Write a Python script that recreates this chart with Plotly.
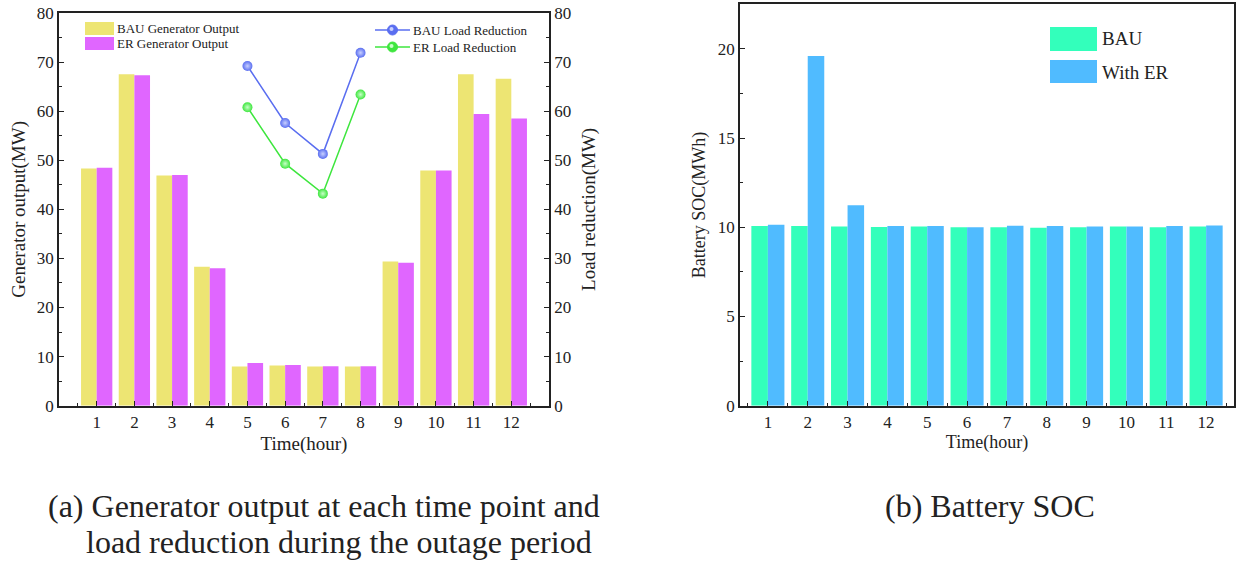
import plotly.graph_objects as go

W, H = 1239, 563
FONT = "Liberation Serif"

hours = list(range(1, 13))
tick_labels = [str(h) for h in hours]

# (a) generator output (MW)
bau_gen = [48.3, 67.5, 46.9, 28.3, 8.0, 8.2, 8.0, 8.0, 29.4, 47.9, 67.5, 66.6]
er_gen = [48.5, 67.3, 47.0, 28.0, 8.7, 8.3, 8.05, 8.05, 29.1, 47.9, 59.4, 58.5]

# (a) load reduction during outage (MW)
outage_hours = [5, 6, 7, 8]
bau_lr = [69.2, 57.6, 51.3, 71.9]
er_lr = [60.8, 49.3, 43.2, 63.4]

# (b) battery SOC (MWh)
bau_soc = [10.07, 10.07, 10.05, 10.01, 10.05, 10.0, 10.0, 9.97, 10.0, 10.05, 10.0, 10.05]
er_soc = [10.14, 19.6, 11.24, 10.07, 10.07, 10.0, 10.08, 10.07, 10.05, 10.05, 10.07, 10.1]

C_BAU_GEN = "#EDE573"
C_ER_GEN = "#E066FF"
C_BAU_LR = "#5A6EF0"
C_ER_LR = "#3EE63E"
C_BAU_SOC = "#33FFBB"
C_ER_SOC = "#50BBFF"


def px(x):
    return x / W


def py(y):
    return 1 - y / H


fig = go.Figure()

fig.add_trace(go.Bar(x=hours, y=bau_gen, name="BAU Generator Output", marker_color=C_BAU_GEN,
                     marker_line_width=0, xaxis="x", yaxis="y", offsetgroup="a1", showlegend=False))
fig.add_trace(go.Bar(x=hours, y=er_gen, name="ER Generator Output", marker_color=C_ER_GEN,
                     marker_line_width=0, xaxis="x", yaxis="y", offsetgroup="a2", showlegend=False))

fig.add_trace(go.Scatter(x=outage_hours, y=bau_lr, name="BAU Load Reduction", mode="lines+markers",
                         line=dict(color=C_BAU_LR, width=1.5),
                         marker=dict(size=10, color=C_BAU_LR, gradient=dict(type="radial", color="#C8D0FF")),
                         xaxis="x", yaxis="y2", showlegend=False))
fig.add_trace(go.Scatter(x=outage_hours, y=er_lr, name="ER Load Reduction", mode="lines+markers",
                         line=dict(color=C_ER_LR, width=1.5),
                         marker=dict(size=10, color=C_ER_LR, gradient=dict(type="radial", color="#C8FFC8")),
                         xaxis="x", yaxis="y2", showlegend=False))

fig.add_trace(go.Bar(x=hours, y=bau_soc, name="BAU", marker_color=C_BAU_SOC, marker_line_width=0,
                     xaxis="x2", yaxis="y3", offsetgroup="b1", showlegend=False))
fig.add_trace(go.Bar(x=hours, y=er_soc, name="With ER", marker_color=C_ER_SOC, marker_line_width=0,
                     xaxis="x2", yaxis="y3", offsetgroup="b2", showlegend=False))

axis_common = dict(showline=True, linecolor="#222", linewidth=1.5, showgrid=False, zeroline=False,
                   ticks="inside", ticklen=5, tickwidth=1.3, tickcolor="#222", automargin=False,
                   tickfont=dict(family=FONT, size=17, color="#222"))

fig.update_layout(
    width=W, height=H,
    margin=dict(l=0, r=0, t=0, b=0, pad=0, autoexpand=False),
    paper_bgcolor="white", plot_bgcolor="white",
    barmode="group", bargap=0.17, bargroupgap=0,
    font=dict(family=FONT, color="#222"),
    showlegend=False,
    xaxis=dict(domain=[px(59), px(549)], range=[0, 13], tickvals=hours, ticktext=tick_labels,
               mirror=True, anchor="y",
               minor=dict(tickvals=[h + 0.5 for h in range(0, 13)], ticks="inside", ticklen=3, tickcolor="#222"),
               title=dict(text="Time(hour)", font=dict(family=FONT, size=19, color="#222"), standoff=6),
               **axis_common),
    yaxis=dict(domain=[py(405.7), py(13)], range=[0, 80], dtick=10, anchor="x",
               minor=dict(dtick=5, ticks="inside", ticklen=3, tickcolor="#222"),
               title=dict(text="Generator output(MW)", font=dict(family=FONT, size=19, color="#222"), standoff=6),
               **axis_common),
    yaxis2=dict(overlaying="y", side="right", range=[0, 80], dtick=10, anchor="x",
                minor=dict(dtick=5, ticks="inside", ticklen=3, tickcolor="#222"),
                title=dict(text="Load reduction(MW)", font=dict(family=FONT, size=19, color="#222"), standoff=12),
                **axis_common),
    xaxis2=dict(domain=[px(740), px(1234)], range=[0.3, 12.7], tickvals=hours, ticktext=tick_labels,
                mirror=True, anchor="y3",
                minor=dict(tickvals=[h + 0.5 for h in range(0, 13)], ticks="inside", ticklen=3, tickcolor="#222"),
                title=dict(text="Time(hour)", font=dict(family=FONT, size=18, color="#222"), standoff=4),
                **axis_common),
    yaxis3=dict(domain=[py(405.7), py(4.3)], range=[0, 22.5], dtick=5, anchor="x2", mirror=True,
                minor=dict(dtick=2.5, ticks="inside", ticklen=3, tickcolor="#222"),
                title=dict(text="Battery SOC(MWh)", font=dict(family=FONT, size=18, color="#222"), standoff=8),
                **axis_common),
)

# manual legends (swatches + labels)
shapes = []
annos = []


def swatch(x0, y0, x1, y1, color):
    shapes.append(dict(type="rect", xref="paper", yref="paper", x0=px(x0), x1=px(x1), y0=py(y1), y1=py(y0),
                       fillcolor=color, line=dict(width=0)))


def line_key(x0, x1, y, color, light):
    shapes.append(dict(type="line", xref="paper", yref="paper", x0=px(x0), x1=px(x1), y0=py(y), y1=py(y),
                       line=dict(color=color, width=1.5)))
    cx = (x0 + x1) / 2
    shapes.append(dict(type="circle", xref="paper", yref="paper", x0=px(cx - 5), x1=px(cx + 5),
                       y0=py(y + 5), y1=py(y - 5), fillcolor=color, line=dict(color=color, width=1)))
    shapes.append(dict(type="circle", xref="paper", yref="paper", x0=px(cx - 3), x1=px(cx + 1),
                       y0=py(y + 1), y1=py(y - 3), fillcolor=light, line=dict(width=0)))


def label(x, y, text, size, xanchor="left"):
    annos.append(dict(x=px(x), y=py(y), xref="paper", yref="paper", text=text, showarrow=False,
                      xanchor=xanchor, yanchor="middle", borderpad=0,
                      font=dict(family=FONT, size=size, color="#222")))


swatch(85, 22, 114, 35, C_BAU_GEN)
swatch(85, 37, 114, 50, C_ER_GEN)
label(116, 28.5, "BAU Generator Output", 13)
label(116, 44, "ER Generator Output", 13)

line_key(375, 410, 30, C_BAU_LR, "#C8D0FF")
line_key(375, 410, 47, C_ER_LR, "#C8FFC8")
label(412, 30, "BAU Load Reduction", 13)
label(412, 47, "ER Load Reduction", 13)

swatch(1050, 27, 1097, 51, C_BAU_SOC)
swatch(1050, 60, 1097, 83, C_ER_SOC)
label(1101, 39, "BAU", 19)
label(1101, 72, "With ER", 19)

# captions
label(324, 506, "(a) Generator output at each time point and", 32, "center")
label(339, 542, "load reduction during the outage period", 32, "center")
label(990, 506, "(b) Battery SOC", 32, "center")

fig.update_layout(shapes=shapes, annotations=annos)

fig.write_html("out.html", config={"displayModeBar": False},
               post_script="document.body.style.margin='0';document.body.style.padding='0';")
